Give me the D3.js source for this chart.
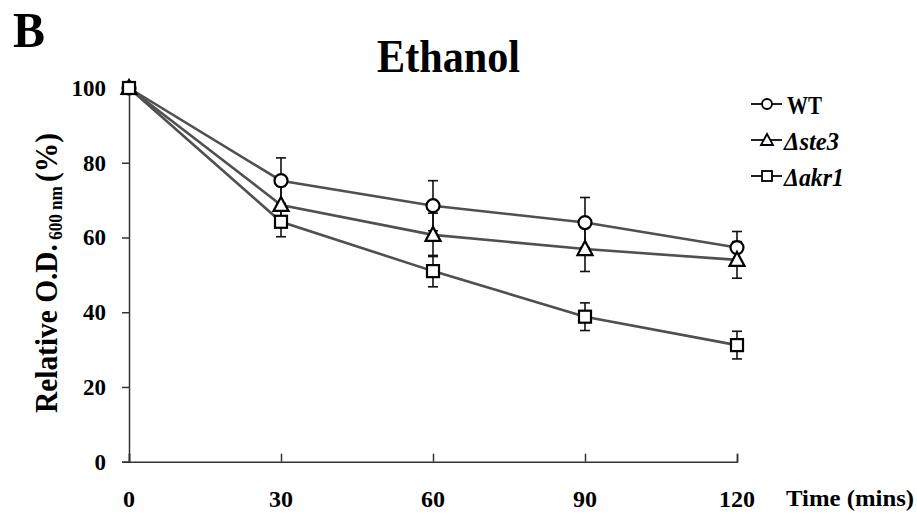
<!DOCTYPE html>
<html><head><meta charset="utf-8">
<script src="https://cdn.jsdelivr.net/npm/d3@7"></script>
<style>body{margin:0;background:#fff}svg{display:block}text{font-family:"Liberation Serif","Times New Roman",serif;font-weight:bold;fill:#000}</style>
</head><body>
<script>
const times = [0, 30, 60, 90, 120];
const wtValues = [100, 75.2, 68.5, 64.0, 57.3];
const wtErrors = [0, 6.1, 6.7, 6.7, 4.3];
const ste3Values = [100, 68.7, 60.7, 56.9, 54.0];
const ste3Errors = [0, 5.0, 5.8, 6.0, 4.9];
const akr1Values = [100, 64.2, 51.0, 38.8, 31.2];
const akr1Errors = [0, 4.0, 4.2, 3.7, 3.7];
const xTicks = [0, 30, 60, 90, 120];
const yTicks = [0, 20, 40, 60, 80, 100];
const seriesNames = ["WT", "\u0394ste3", "\u0394akr1"];
const seriesShapes = ["circle", "triangle", "square"];

const series = seriesNames.map((name, i) => ({
  name, shape: seriesShapes[i],
  values: [wtValues, ste3Values, akr1Values][i],
  errors: [wtErrors, ste3Errors, akr1Errors][i]
}));

const W = 917, H = 515;
const svg = d3.select("body").append("svg").attr("width", W).attr("height", H);
const x = d3.scaleLinear().domain([0, 120]).range([129, 737]);
const y = d3.scaleLinear().domain([0, 100]).range([461.7, 88]);

// Panel letter & title
svg.append("text").attr("x", 13).attr("y", 47).attr("font-size", 50)
  .attr("textLength", 32).attr("lengthAdjust", "spacingAndGlyphs").text("B");
svg.append("text").attr("x", 377).attr("y", 72).attr("font-size", 47)
  .attr("textLength", 143).attr("lengthAdjust", "spacingAndGlyphs").text("Ethanol");

// Axes
const xAxis = d3.axisBottom(x).tickValues(xTicks).tickSize(-8).tickFormat("");
const gx = svg.append("g").attr("transform", `translate(0,${y(0)})`).call(xAxis);
const yAxis = d3.axisLeft(y).tickValues(yTicks).tickSize(7).tickFormat("");
const gy = svg.append("g").attr("transform", `translate(${x(0)},0)`).call(yAxis);
[gx, gy].forEach(g => {
  g.select(".domain").attr("stroke", "#333").attr("stroke-width", 1.5);
  g.selectAll(".tick line").attr("stroke", "#333").attr("stroke-width", 1.5);
});

svg.append("g").selectAll("text").data(xTicks).join("text")
  .attr("x", d => x(d)).attr("y", 507).attr("text-anchor", "middle")
  .attr("font-size", 24).text(d => d);
svg.append("g").selectAll("text").data(yTicks).join("text")
  .attr("x", 106).attr("y", d => y(d) + 8).attr("text-anchor", "end")
  .attr("font-size", 23).text(d => d);

svg.append("text").attr("x", 786).attr("y", 506)
  .attr("font-size", 24).attr("textLength", 128).attr("lengthAdjust", "spacingAndGlyphs").text("Time (mins)");

// Y label
const yl = svg.append("text").attr("transform", "translate(57,413) rotate(-90)")
  .attr("font-size", 31).attr("textLength", 280).attr("lengthAdjust", "spacingAndGlyphs");
yl.append("tspan").text("Relative O.D.");
yl.append("tspan").attr("font-size", 18).attr("dy", 5).text(" 600 nm ");
yl.append("tspan").attr("dy", -5).text("(%)");

// Lines
const line = d3.line().x((d, i) => x(times[i])).y(d => y(d));
svg.append("g").selectAll("path").data(series).join("path")
  .attr("d", s => line(s.values)).attr("fill", "none")
  .attr("stroke", "#505050").attr("stroke-width", 2.6);

// Error bars
const eg = svg.append("g").attr("stroke", "#111").attr("stroke-width", 1.6);
series.forEach(s => {
  s.values.forEach((v, i) => {
    const e = s.errors[i];
    if (!e) return;
    const cx = x(times[i]);
    eg.append("line").attr("x1", cx).attr("x2", cx).attr("y1", y(v + e)).attr("y2", y(v - e));
    eg.append("line").attr("x1", cx - 5).attr("x2", cx + 5).attr("y1", y(v + e)).attr("y2", y(v + e));
    eg.append("line").attr("x1", cx - 5).attr("x2", cx + 5).attr("y1", y(v - e)).attr("y2", y(v - e));
  });
});

function drawMarker(g, shape, cx, cy) {
  const m = g.append("g").attr("transform", `translate(${cx},${cy})`);
  if (shape === "circle") m.append("circle").attr("r", 6.5);
  else if (shape === "triangle") m.append("path").attr("d", "M0,-8L7.5,6L-7.5,6Z");
  else m.append("rect").attr("x", -6).attr("y", -6).attr("width", 12).attr("height", 12);
  m.attr("fill", "#fff").attr("stroke", "#000").attr("stroke-width", 2.2);
}
const mg = svg.append("g");
series.forEach(s => s.values.forEach((v, i) => drawMarker(mg, s.shape, x(times[i]), y(v))));

// Legend
const legendLen = [35, 55, 60];
const lg = svg.append("g");
series.forEach((s, i) => {
  const ly = 104 + i * 36;
  lg.append("line").attr("x1", 751).attr("x2", 782).attr("y1", ly).attr("y2", ly)
    .attr("stroke", "#222").attr("stroke-width", 2);
  const mm = lg.append("g").attr("transform", `translate(767,${ly})`);
  if (s.shape === "circle") mm.append("circle").attr("r", 5);
  else if (s.shape === "triangle") mm.append("path").attr("d", "M0,-6L6,5L-6,5Z");
  else mm.append("rect").attr("x", -5).attr("y", -5).attr("width", 10).attr("height", 10);
  mm.attr("fill", "#fff").attr("stroke", "#000").attr("stroke-width", 1.8);
  lg.append("text").attr("x", i === 0 ? 787 : 784).attr("y", ly + 10).attr("font-size", 25)
    .attr("textLength", legendLen[i]).attr("lengthAdjust", "spacingAndGlyphs")
    .attr("font-style", i === 0 ? "normal" : "italic").text(s.name);
});
</script>
</body></html>
